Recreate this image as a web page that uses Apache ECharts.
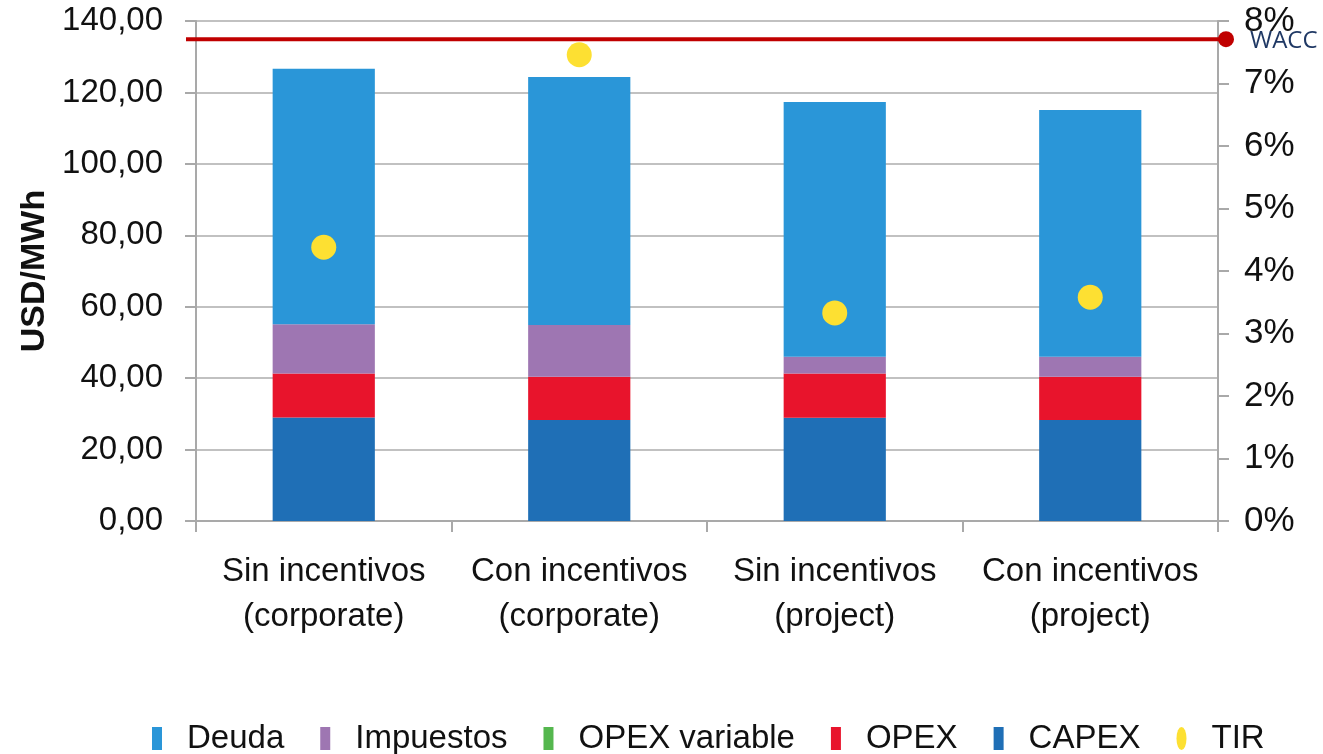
<!DOCTYPE html>
<html>
<head>
<meta charset="utf-8">
<script src="https://cdn.jsdelivr.net/npm/echarts@6/dist/echarts.min.js"></script>
<style>
  html, body { margin: 0; padding: 0; background: #fff; }
  #chart { width: 1323px; height: 754px; }
</style>
</head>
<body>
<div id="chart"></div>
<script>
const categories = ['Sin incentivos\n(corporate)', 'Con incentivos\n(corporate)', 'Sin incentivos\n(project)', 'Con incentivos\n(project)'];
const capex = [29.0, 28.3, 28.9, 28.3];
const opex = [12.3, 12.1, 12.4, 12.1];
const opexVariable = [0, 0, 0, 0];
const impuestos = [13.8, 14.5, 4.7, 5.6];
const deuda = [71.5, 69.4, 71.3, 69.1];
const tir = [4.38, 7.46, 3.33, 3.58];
const wacc = [7.71];
const legendNames = ['Deuda', 'Impuestos', 'OPEX variable', 'OPEX', 'CAPEX', 'TIR'];

const font_family = '"Liberation Sans", Arial, sans-serif';
const axis_color = '#a9a9a9';
const text_color = '#111111';

const chartArea = document.getElementById('chart');
const chart = echarts.init(chartArea, null, { renderer: 'canvas' });

function barSeries(name, data, color) {
  return {
    name: name,
    type: 'bar',
    stack: 'total',
    barWidth: '40%',
    data: data,
    itemStyle: { color: color },
    emphasis: { disabled: true }
  };
}

const option = {
  animation: false,
  textStyle: { fontFamily: font_family },
  grid: { left: 196, right: 105, top: 21, bottom: 233 },
  legend: {
    data: legendNames.map(function (name) {
      if (name === 'TIR') {
        return { name: name, icon: 'path://M5,0 A5,11.5 0 1,1 5,23 A5,11.5 0 1,1 5,0 Z' };
      }
      return { name: name, icon: 'rect' };
    }),
    left: 152,
    top: 722,
    padding: 0,
    itemWidth: 10,
    itemHeight: 23,
    itemGap: 36,
    textStyle: {
      fontSize: 33,
      color: text_color,
      fontFamily: font_family,
      padding: [0, 0, 0, 20]
    }
  },
  xAxis: {
    type: 'category',
    data: categories,
    axisLine: { lineStyle: { color: axis_color, width: 2 } },
    axisTick: { show: true, length: 11, alignWithLabel: false, lineStyle: { color: axis_color, width: 2 } },
    axisLabel: {
      fontSize: 33,
      color: text_color,
      lineHeight: 45,
      margin: 28,
      interval: 0
    }
  },
  yAxis: [
    {
      type: 'value',
      min: 0,
      max: 140,
      interval: 20,
      name: 'USD/MWh',
      nameLocation: 'middle',
      nameGap: 144,
      nameRotate: 90,
      nameTextStyle: { fontSize: 34, fontWeight: 'bold', color: text_color },
      axisLine: { show: true, lineStyle: { color: axis_color, width: 2 } },
      axisTick: { show: true, length: 11, lineStyle: { color: axis_color, width: 2 } },
      splitLine: { show: true, lineStyle: { color: '#adadad', width: 1.5 } },
      axisLabel: {
        fontSize: 33,
        color: text_color,
        margin: 33,
        formatter: function (v) { return v.toFixed(2).replace('.', ','); }
      }
    },
    {
      type: 'value',
      min: 0,
      max: 8,
      interval: 1,
      position: 'right',
      axisLine: { show: true, lineStyle: { color: axis_color, width: 2 } },
      axisTick: { show: true, length: 11, lineStyle: { color: axis_color, width: 2 } },
      splitLine: { show: false },
      axisLabel: {
        fontSize: 35,
        color: text_color,
        margin: 26,
        formatter: '{value}%'
      }
    }
  ],
  series: [
    barSeries('CAPEX', capex, '#1f6fb6'),
    barSeries('OPEX', opex, '#e8142c'),
    barSeries('OPEX variable', opexVariable, '#55b74e'),
    barSeries('Impuestos', impuestos, '#9e76b2'),
    barSeries('Deuda', deuda, '#2a96d8'),
    {
      name: 'TIR',
      type: 'scatter',
      yAxisIndex: 1,
      data: tir,
      symbol: 'circle',
      symbolSize: 25,
      itemStyle: { color: '#fde032', opacity: 1 },
      z: 5
    }
  ]
};
chart.setOption(option);

// WACC reference line, placed through the axis scales
const waccY = chart.convertToPixel({ yAxisIndex: 1 }, wacc[0]);
const firstX = chart.convertToPixel({ xAxisIndex: 0 }, categories[0]);
const lastX = chart.convertToPixel({ xAxisIndex: 0 }, categories[categories.length - 1]);
const step = (lastX - firstX) / (categories.length - 1);
const plotLeft = firstX - step / 2;
const plotRight = lastX + step / 2;
chart.setOption({
  graphic: [
    {
      type: 'line',
      shape: { x1: plotLeft - 10, y1: waccY, x2: plotRight + 8, y2: waccY },
      style: { stroke: '#c00000', lineWidth: 4 },
      z: 10
    },
    {
      type: 'circle',
      shape: { cx: plotRight + 8, cy: waccY, r: 8 },
      style: { fill: '#c00000' },
      z: 10
    },
    {
      type: 'text',
      x: plotRight + 32,
      y: waccY + 2,
      style: {
        text: 'WACC',
        fill: '#1f3864',
        font: '24px "Open Sans", sans-serif',
        verticalAlign: 'middle'
      },
      z: 10
    }
  ]
});
</script>
</body>
</html>
